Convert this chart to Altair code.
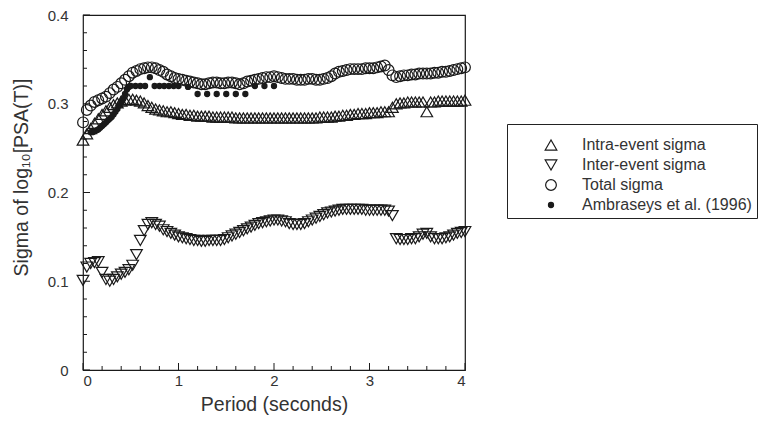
import altair as alt
import pandas as pd

# ---------------- data ----------------
periods = [
    0.00, 0.04, 0.08, 0.12, 0.16, 0.20, 0.24, 0.28, 0.32, 0.36,
    0.40, 0.44, 0.48, 0.52, 0.56, 0.60, 0.64, 0.68, 0.72, 0.76,
    0.80, 0.84, 0.88, 0.92, 0.96, 1.00, 1.04, 1.08, 1.12, 1.16,
    1.20, 1.24, 1.28, 1.32, 1.36, 1.40, 1.44, 1.48, 1.52, 1.56,
    1.60, 1.64, 1.68, 1.72, 1.76, 1.80, 1.84, 1.88, 1.92, 1.96,
    2.00, 2.04, 2.08, 2.12, 2.16, 2.20, 2.24, 2.28, 2.32, 2.36,
    2.40, 2.44, 2.48, 2.52, 2.56, 2.60, 2.64, 2.68, 2.72, 2.76,
    2.80, 2.84, 2.88, 2.92, 2.96, 3.00, 3.04, 3.08, 3.12, 3.16,
    3.20, 3.24, 3.28, 3.32, 3.36, 3.40, 3.44, 3.48, 3.52, 3.56,
    3.60, 3.64, 3.68, 3.72, 3.76, 3.80, 3.84, 3.88, 3.92, 3.96,
    4.00,
]

intra_sigma = [
    0.259, 0.266, 0.272, 0.278, 0.283, 0.288, 0.292, 0.296, 0.299, 0.301,
    0.303, 0.304, 0.305, 0.305, 0.304, 0.303, 0.301, 0.298, 0.296, 0.294,
    0.293, 0.292, 0.291, 0.291, 0.290, 0.289, 0.288, 0.288, 0.287, 0.287,
    0.286, 0.286, 0.286, 0.286, 0.285, 0.285, 0.285, 0.285, 0.285, 0.285,
    0.284, 0.284, 0.284, 0.284, 0.284, 0.284, 0.284, 0.284, 0.284, 0.284,
    0.284, 0.284, 0.284, 0.284, 0.284, 0.284, 0.284, 0.284, 0.284, 0.284,
    0.284, 0.284, 0.285, 0.285, 0.285, 0.285, 0.286, 0.286, 0.287, 0.287,
    0.288, 0.288, 0.289, 0.289, 0.289, 0.290, 0.290, 0.290, 0.291, 0.291,
    0.291, 0.296, 0.300, 0.301, 0.301, 0.302, 0.302, 0.302, 0.302, 0.302,
    0.291, 0.302, 0.302, 0.303, 0.303, 0.303, 0.303, 0.303, 0.303, 0.303,
    0.304,
]

inter_sigma = [
    0.101, 0.116, 0.120, 0.121, 0.122, 0.110, 0.102, 0.100, 0.102, 0.105,
    0.108, 0.110, 0.113, 0.118, 0.130, 0.146, 0.157, 0.164, 0.166, 0.164,
    0.162, 0.158, 0.156, 0.154, 0.152, 0.150, 0.149, 0.148, 0.147, 0.146,
    0.146, 0.145, 0.145, 0.146, 0.146, 0.146, 0.146, 0.147, 0.149, 0.151,
    0.153, 0.155, 0.157, 0.159, 0.161, 0.163, 0.165, 0.166, 0.167, 0.168,
    0.169, 0.169, 0.168, 0.167, 0.165, 0.164, 0.164, 0.164, 0.165, 0.167,
    0.169, 0.171, 0.173, 0.175, 0.177, 0.178, 0.179, 0.180, 0.181, 0.181,
    0.181, 0.181, 0.181, 0.181, 0.180, 0.180, 0.180, 0.180, 0.180, 0.180,
    0.179, 0.174, 0.148, 0.147, 0.147, 0.147, 0.148, 0.148, 0.150, 0.153,
    0.154, 0.150, 0.148, 0.148, 0.148, 0.149, 0.150, 0.152, 0.154, 0.155,
    0.156,
]

total_sigma = [
    0.279, 0.293, 0.298, 0.302, 0.304, 0.306, 0.308, 0.312, 0.316, 0.319,
    0.323, 0.327, 0.331, 0.335, 0.337, 0.339, 0.340, 0.341, 0.341, 0.340,
    0.338, 0.336, 0.333, 0.331, 0.329, 0.328, 0.327, 0.326, 0.325, 0.324,
    0.323, 0.322, 0.322, 0.323, 0.324, 0.324, 0.323, 0.323, 0.324, 0.324,
    0.323, 0.322, 0.323, 0.325, 0.326, 0.327, 0.328, 0.329, 0.330, 0.330,
    0.331, 0.330, 0.329, 0.328, 0.328, 0.328, 0.327, 0.327, 0.327, 0.328,
    0.328, 0.327, 0.327, 0.328, 0.329, 0.331, 0.334, 0.336, 0.337, 0.338,
    0.339, 0.339, 0.339, 0.339, 0.340, 0.340, 0.340, 0.341, 0.342, 0.343,
    0.338, 0.332, 0.330, 0.331, 0.332, 0.332, 0.333, 0.333, 0.334, 0.334,
    0.334, 0.334, 0.335, 0.335, 0.336, 0.336, 0.337, 0.338, 0.339, 0.340,
    0.341,
]

amb_periods = [
    0.08, 0.10, 0.12, 0.14, 0.16, 0.18, 0.20, 0.22, 0.24, 0.26,
    0.28, 0.30, 0.32, 0.34, 0.36, 0.38, 0.40, 0.42, 0.44, 0.46,
    0.48, 0.50, 0.55, 0.60, 0.65, 0.70, 0.75, 0.80, 0.85, 0.90,
    0.95, 1.00, 1.10, 1.20, 1.30, 1.40, 1.50, 1.60, 1.70, 1.80,
    1.90, 2.00,
]
amb_sigma = [
    0.268, 0.268, 0.269, 0.270, 0.271, 0.273, 0.275, 0.277, 0.279, 0.281,
    0.283, 0.285, 0.288, 0.291, 0.294, 0.298, 0.302, 0.306, 0.311, 0.316,
    0.319, 0.320, 0.320, 0.320, 0.320, 0.330, 0.320, 0.320, 0.320, 0.320,
    0.320, 0.320, 0.319, 0.311, 0.311, 0.311, 0.311, 0.311, 0.311, 0.320,
    0.320, 0.320,
]

series_names = ["Intra-event sigma", "Inter-event sigma", "Total sigma",
                "Ambraseys et al. (1996)"]
series_shapes = ["triangle-up", "triangle-down", "circle", "circle"]
series_fills = ["transparent", "transparent", "transparent", "#1a1a1a"]
series_strokes = ["#1a1a1a", "#1a1a1a", "#1a1a1a", "#1a1a1a"]
series_sizes = [135, 135, 115, 26]

x_major = [0, 1, 2, 3, 4]
x_minor = [0.2, 0.4, 0.6, 0.8, 1.2, 1.4, 1.6, 1.8, 2.2, 2.4, 2.6, 2.8,
           3.2, 3.4, 3.6, 3.8]
y_major = [0, 0.1, 0.2, 0.3, 0.4]
y_minor = [0.02, 0.04, 0.06, 0.08, 0.12, 0.14, 0.16, 0.18, 0.22, 0.24,
           0.26, 0.28, 0.32, 0.34, 0.36, 0.38]

# ---------------- tables ----------------
rows = []
for k, (name, xs, ys) in enumerate([
    (series_names[0], periods, intra_sigma),
    (series_names[1], periods, inter_sigma),
    (series_names[2], periods, total_sigma),
    (series_names[3], amb_periods, amb_sigma),
]):
    for p, v in zip(xs, ys):
        rows.append({"period": p, "sigma": v, "series": name, "order": k})
df = pd.DataFrame(rows)

W, H = 382, 355
INK = "#1a1a1a"
TXT = "#333333"
FONT = "Liberation Sans"

xscale = alt.Scale(domain=[0, 4], nice=False, zero=False)
yscale = alt.Scale(domain=[0, 0.4], nice=False, zero=False)

xaxis = alt.Axis(title="Period (seconds)", values=x_major, format="d",
                 labelPadding=3, titlePadding=7)
yaxis = alt.Axis(title="Sigma of log₁₀[PSA(T)]", values=y_major,
                 labelExpr="datum.value == 0 ? '0' : format(datum.value, '.1f')",
                 labelPadding=15, titlePadding=16, titleY=162)

leg = alt.Legend(
    title=" ", titleFontSize=8, titlePadding=0,
    orient="none", legendX=424, legendY=109,
    strokeColor="#222222", padding=5, fillColor="white",
    labelFont=FONT, labelFontSize=16, labelColor=TXT, labelLimit=400,
    rowPadding=4, symbolOffset=31, labelOffset=23,
    symbolStrokeWidth=1.2, symbolStrokeColor=INK,
)

def sc(rng):
    return alt.Scale(type="ordinal", domain=series_names, range=rng)

points = alt.Chart(df).mark_point(strokeWidth=1.2, opacity=1).encode(
    x=alt.X("period:Q", scale=xscale, axis=xaxis),
    y=alt.Y("sigma:Q", scale=yscale, axis=yaxis),
    shape=alt.Shape("series:N", scale=sc(series_shapes), legend=leg),
    fill=alt.Fill("series:N", scale=sc(series_fills), legend=leg),
    stroke=alt.Stroke("series:N", scale=sc(series_strokes), legend=leg),
    size=alt.Size("series:N", scale=sc(series_sizes), legend=leg),
    order=alt.Order("order:Q"),
)

xmaj = alt.Chart(pd.DataFrame({"period": x_major})).mark_rule(color=INK, strokeWidth=1).encode(
    x=alt.X("period:Q", scale=xscale, axis=xaxis), y=alt.value(H), y2=alt.value(H - 7))
xmin = alt.Chart(pd.DataFrame({"period": x_minor})).mark_rule(color=INK, strokeWidth=1).encode(
    x=alt.X("period:Q", scale=xscale, axis=xaxis), y=alt.value(H), y2=alt.value(H - 4))
ymaj = alt.Chart(pd.DataFrame({"sigma": y_major})).mark_rule(color=INK, strokeWidth=1).encode(
    y=alt.Y("sigma:Q", scale=yscale, axis=yaxis), x=alt.value(0), x2=alt.value(7))
ymin = alt.Chart(pd.DataFrame({"sigma": y_minor})).mark_rule(color=INK, strokeWidth=1).encode(
    y=alt.Y("sigma:Q", scale=yscale, axis=yaxis), x=alt.value(0), x2=alt.value(4))

chart = alt.layer(points, xmin, xmaj, ymin, ymaj).properties(
    width=W, height=H,
    autosize=alt.AutoSizeParams(type="none"),
    padding={"left": 75, "top": 7, "right": 296, "bottom": 47},
    background="white",
).configure_view(
    stroke=INK, strokeWidth=1.2,
).configure_axis(
    domain=False, ticks=False, grid=False,
    labelFont=FONT, labelFontSize=15, labelColor=TXT,
    titleFont=FONT, titleFontSize=19.5, titleFontWeight="normal", titleColor=TXT,
)

chart.save("out.html", embed_options={"renderer": "svg", "actions": False})
